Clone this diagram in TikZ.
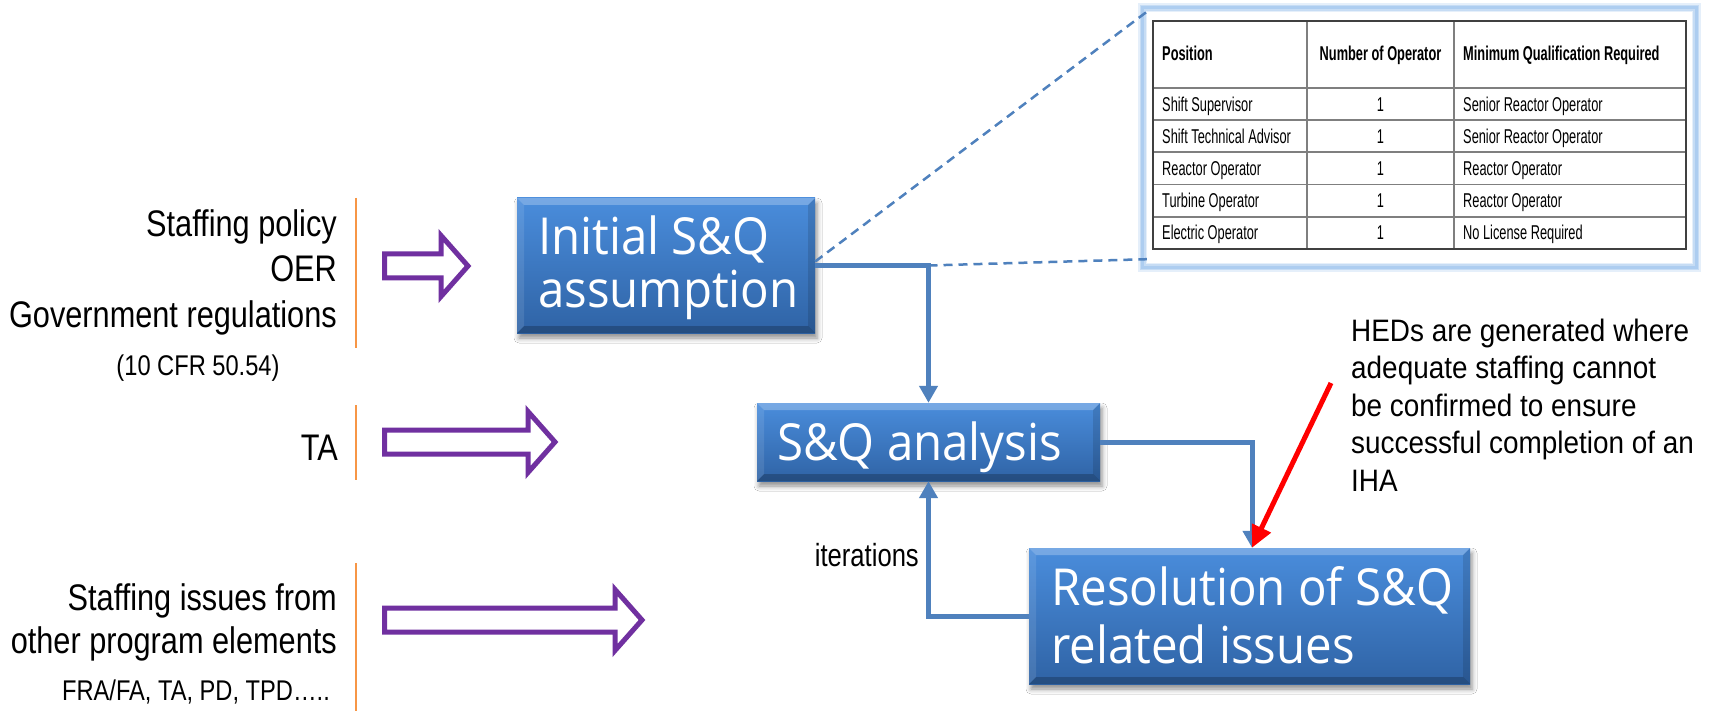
\documentclass[tikz,border=0pt]{standalone}
\usepackage{fontspec}
\setmainfont{Liberation Sans}
\newfontfamily\labfont[FakeStretch=0.83]{Liberation Sans}
\newfontfamily\hedfont[FakeStretch=0.9]{Liberation Sans}
\newfontfamily\iterfont[FakeStretch=0.8]{Liberation Sans}
\newfontfamily\tabfont[FakeStretch=0.64]{Liberation Sans}
\newfontfamily\boxfont[FakeStretch=0.93]{Open Sans}
\usetikzlibrary{arrows.meta,shadows.blur}

\definecolor{flowblue}{HTML}{4F81BD}
\definecolor{hollowpurple}{HTML}{7030A0}
\definecolor{tickorange}{HTML}{F79646}
\definecolor{boxtop}{HTML}{4A8DDC}
\definecolor{boxbot}{HTML}{2F63A5}
\definecolor{glowblue}{HTML}{A9CBF0}
\definecolor{gridgray}{HTML}{7F7F7F}
\definecolor{framegray}{HTML}{404040}

\tikzset{
  sqbox/.style={inner sep=0pt, top color=boxtop, bottom color=boxbot,
    blur shadow={shadow xshift=2pt, shadow yshift=-5pt, shadow blur radius=5pt, shadow opacity=45},
    path picture={
      \fill[white,opacity=0.25] (path picture bounding box.north west) -- (path picture bounding box.north east)
        -- ([shift={(-7pt,-7pt)}]path picture bounding box.north east) -- ([shift={(7pt,-7pt)}]path picture bounding box.north west) -- cycle;
      \fill[black,opacity=0.22] (path picture bounding box.south west) -- (path picture bounding box.south east)
        -- ([shift={(-7pt,7pt)}]path picture bounding box.south east) -- ([shift={(7pt,7pt)}]path picture bounding box.south west) -- cycle;
      \fill[white,opacity=0.10] (path picture bounding box.north west) -- ([shift={(7pt,-7pt)}]path picture bounding box.north west)
        -- ([shift={(7pt,7pt)}]path picture bounding box.south west) -- (path picture bounding box.south west) -- cycle;
      \fill[black,opacity=0.12] (path picture bounding box.north east) -- ([shift={(-7pt,-7pt)}]path picture bounding box.north east)
        -- ([shift={(-7pt,7pt)}]path picture bounding box.south east) -- (path picture bounding box.south east) -- cycle;
    }},
  boxtext/.style={anchor=base west, inner sep=0pt, text=white, font=\boxfont\fontsize{51}{55}\selectfont},
  flow/.style={draw=flowblue, line width=5pt, -{Triangle[width=18pt,length=17pt]}},
  dashline/.style={draw=flowblue, line width=2.5pt, dash pattern=on 9pt off 6pt},
  redpointer/.style={draw=red, line width=5pt, -{Triangle[width=20pt,length=22pt]}},
  hollow/.style={draw=hollowpurple, line width=5pt, fill=white, line join=miter},
  tick/.style={draw=tickorange, line width=2.5pt},
  lab/.style={inner sep=0pt, font=\labfont\fontsize{37}{44}\selectfont},
  smalllab/.style={inner sep=0pt, font=\labfont\fontsize{28.5}{34}\selectfont},
  hedline/.style={anchor=base west, inner sep=0pt, font=\hedfont\fontsize{31}{37}\selectfont},
  cell/.style={anchor=base west, inner sep=0pt, font=\tabfont\fontsize{20}{22}\selectfont},
  headcell/.style={cell, font=\tabfont\bfseries\fontsize{20}{22}\selectfont},
  gridline/.style={draw=gridgray, line width=1.8pt},
  panel/.style={fill=white, draw=none, inner sep=0pt, minimum width=545pt, minimum height=251pt}
}

% hollow block arrow: start x, head x, tip x, centre y
\newcommand\blockarrow[4]{%
  \draw[hollow] (#1,#4-12) -- (#2,#4-12) -- (#2,#4-30.5) -- (#3,#4)
    -- (#2,#4+30.5) -- (#2,#4+12) -- (#1,#4+12) -- cycle;}

\begin{document}
\begin{tikzpicture}[x=1pt,y=-1pt]
\useasboundingbox[fill=white] (0,0) rectangle (1713,711);

% ---- staffing table panel ----
\node[panel] (tbl) at (1419.5,137.5) {};
\foreach \w/\o in {9/0.3,6/0.5,3/0.85}
  \draw[glowblue, line width=\w pt, opacity=\o]
    ([shift={(-4pt,4pt)}]tbl.north west) rectangle ([shift={(4pt,-4pt)}]tbl.south east);
\draw[gridline] (1307,21) -- (1307,249);
\draw[gridline] (1454,21) -- (1454,249);
\foreach \y in {88,120.2,152.4,184.6,216.8}
  \draw[gridline] (1153,\y) -- (1686,\y);
\draw[framegray, line width=2pt] (1153,21) rectangle (1686,249);

\node[headcell] (hpos) at (1162,61) {Position};
\node[headcell, anchor=base] (hnum) at (1380.5,61) {Number of Operator};
\node[headcell] (hqual) at (1463,61) {Minimum Qualification Required};
\foreach \pos/\qual [count=\i] in {Shift Supervisor/Senior Reactor Operator,
    Shift Technical Advisor/Senior Reactor Operator, Reactor Operator/Reactor Operator,
    Turbine Operator/Reactor Operator, Electric Operator/No License Required} {
  \pgfmathsetmacro\yb{88+32.2*(\i-0.5)+7}
  \node[cell] (pos\i) at (1162,\yb) {\pos};
  \node[cell, anchor=base] (num\i) at (1380.5,\yb) {1};
  \node[cell] (qual\i) at (1463,\yb) {\qual};
}

% ---- process boxes ----
\node[sqbox, minimum width=298pt, minimum height=135pt] (init) at (666,265.5) {};
\node[boxtext] (initA) at (538,255) {Initial S\&Q};
\node[boxtext] (initB) at (538,308) {assumption};

\node[sqbox, minimum width=343pt, minimum height=78pt] (sq) at (928.5,442) {};
\node[boxtext] (sqA) at (777,460) {S\&Q analysis};

\node[sqbox, minimum width=441pt, minimum height=136pt] (res) at (1249.5,616) {};
\node[boxtext] (resA) at (1051,605) {Resolution of S\&Q};
\node[boxtext] (resB) at (1051,663) {related issues};

% ---- connectors ----
\coordinate (bend) at (init.east -| sq.north);
\draw[dashline] ([yshift=4pt]init.east) -- (tbl.north west);
\draw[dashline] (bend) -- ([yshift=4pt]tbl.south west);
\draw[flow] (init.east) -| (sq.north);
\draw[flow] (sq.east) -| ([xshift=2.5pt]res.north);
\draw[flow] (res.west) -| (sq.south);
\node[anchor=base east, inner sep=0pt, font=\iterfont\fontsize{32}{36}\selectfont] (iter) at (919,566) {iterations};

% ---- inputs on the left ----
\node[lab, anchor=base east] (in1a) at (337,237) {Staffing policy};
\node[lab, anchor=base east] (in1b) at (337,282) {OER};
\node[lab, anchor=base east] (in1c) at (337,327) {Government regulations};
\node[smalllab, anchor=base] (in1d) at (198,375) {(10 CFR 50.54)};
\draw[tick] (356,198) -- (356,348);
\blockarrow{384.5}{441}{468}{266}

\node[lab, anchor=base east] (in2) at (338,460) {TA};
\draw[tick] (356,405) -- (356,480);
\blockarrow{384.5}{528}{555}{442}

\node[lab, anchor=base east] (in3a) at (337,610) {Staffing issues from};
\node[lab, anchor=base east] (in3b) at (337,653) {other program elements};
\node[smalllab, anchor=base east] (in3c) at (330,700) {FRA/FA, TA, PD, TPD….. };
\draw[tick] (356,563) -- (356,711);
\blockarrow{384.5}{615}{642}{620}

% ---- HED note ----
\foreach \t [count=\i] in {HEDs are generated where, adequate staffing cannot,
    be confirmed to ensure, successful completion of an, IHA}
  \node[hedline] (hed\i) at (1351,{341+37.5*(\i-1)}) {\t};
\coordinate (hedfoot) at (1331,383);
\draw[redpointer] (hedfoot) -- ([xshift=2.5pt]res.north);
\end{tikzpicture}
\end{document}
